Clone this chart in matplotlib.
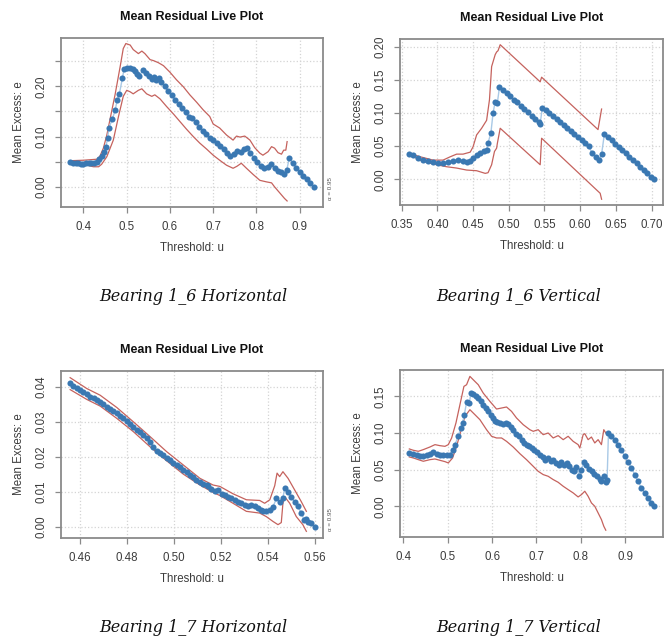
import matplotlib
matplotlib.use("Agg")
import matplotlib.pyplot as plt

# ---- Bearing 1_6 Horizontal ----
b16h_u = [0.369, 0.375, 0.382, 0.388, 0.394, 0.400, 0.406, 0.412, 0.418, 0.425,
          0.431, 0.436, 0.442, 0.447, 0.452, 0.456, 0.459, 0.467, 0.473, 0.478,
          0.483, 0.490, 0.494, 0.500, 0.508, 0.514, 0.519, 0.524, 0.529, 0.537,
          0.545, 0.552, 0.558, 0.563, 0.568, 0.575, 0.580, 0.588, 0.596, 0.604,
          0.612, 0.620, 0.628, 0.636, 0.645, 0.652, 0.660, 0.668, 0.676, 0.684,
          0.692, 0.700, 0.708, 0.716, 0.724, 0.732, 0.740, 0.748, 0.756, 0.764,
          0.772, 0.778, 0.786, 0.794, 0.802, 0.810, 0.818, 0.826, 0.834, 0.842,
          0.850, 0.858, 0.864, 0.870, 0.876, 0.884, 0.892, 0.900, 0.908, 0.916,
          0.924, 0.934]
b16h_e = [0.049, 0.048, 0.047, 0.047, 0.046, 0.046, 0.047, 0.047, 0.047, 0.048,
          0.050, 0.055, 0.062, 0.070, 0.080, 0.098, 0.118, 0.135, 0.152, 0.172,
          0.185, 0.216, 0.235, 0.236, 0.237, 0.235, 0.230, 0.225, 0.220, 0.232,
          0.226, 0.220, 0.215, 0.218, 0.212, 0.216, 0.208, 0.200, 0.190, 0.182,
          0.173, 0.165, 0.156, 0.148, 0.139, 0.137, 0.128, 0.120, 0.112, 0.105,
          0.097, 0.094, 0.088, 0.082, 0.075, 0.068, 0.062, 0.066, 0.072, 0.070,
          0.075, 0.077, 0.068, 0.058, 0.050, 0.042, 0.038, 0.040, 0.046, 0.038,
          0.032, 0.030, 0.026, 0.033, 0.057, 0.048, 0.038, 0.030, 0.022, 0.015,
          0.008, 0.000]
b16h_hi_u = [0.369, 0.400, 0.431, 0.438, 0.446, 0.454, 0.462, 0.473, 0.485, 0.492,
             0.498, 0.508, 0.515, 0.527, 0.535, 0.542, 0.554, 0.562, 0.573, 0.585,
             0.600, 0.615, 0.631, 0.646, 0.662, 0.677, 0.692, 0.700, 0.715, 0.731,
             0.746, 0.754, 0.762, 0.773, 0.785, 0.796, 0.808, 0.815, 0.827, 0.835,
             0.842, 0.850, 0.858, 0.863, 0.868, 0.871]
b16h_hi = [0.052, 0.053, 0.055, 0.061, 0.077, 0.103, 0.137, 0.183, 0.240, 0.275,
           0.285, 0.282, 0.273, 0.265, 0.270, 0.265, 0.253, 0.251, 0.247, 0.241,
           0.228, 0.213, 0.199, 0.183, 0.168, 0.153, 0.140, 0.125, 0.117, 0.103,
           0.093, 0.101, 0.099, 0.101, 0.093, 0.078, 0.067, 0.063, 0.070, 0.080,
           0.077, 0.068, 0.065, 0.073, 0.073, 0.090]
b16h_lo_u = [0.369, 0.400, 0.423, 0.435, 0.442, 0.454, 0.469, 0.481, 0.492, 0.500,
             0.508, 0.515, 0.527, 0.535, 0.546, 0.558, 0.565, 0.577, 0.592, 0.608,
             0.623, 0.638, 0.654, 0.669, 0.685, 0.700, 0.715, 0.731, 0.746, 0.755,
             0.765, 0.777, 0.792, 0.808, 0.823, 0.835, 0.842, 0.854, 0.865, 0.871]
b16h_lo = [0.047, 0.045, 0.040, 0.040, 0.045, 0.060, 0.093, 0.140, 0.180, 0.192,
           0.189, 0.185, 0.192, 0.195, 0.185, 0.180, 0.183, 0.175, 0.160, 0.145,
           0.130, 0.115, 0.100, 0.087, 0.075, 0.063, 0.053, 0.043, 0.037, 0.041,
           0.047, 0.037, 0.025, 0.013, 0.010, 0.008, 0.000, -0.012, -0.023, -0.028]

# ---- Bearing 1_6 Vertical ----
b16v_u = [0.361, 0.366, 0.373, 0.380, 0.387, 0.394, 0.401, 0.408, 0.415, 0.422,
          0.429, 0.436, 0.442, 0.446, 0.450, 0.455, 0.460, 0.465, 0.469, 0.471,
          0.475, 0.478, 0.481, 0.484, 0.487, 0.492, 0.497, 0.502, 0.507, 0.512,
          0.517, 0.522, 0.527, 0.532, 0.537, 0.542, 0.544, 0.547, 0.552, 0.557,
          0.562, 0.567, 0.572, 0.577, 0.582, 0.587, 0.592, 0.597, 0.602, 0.607,
          0.612, 0.617, 0.622, 0.627, 0.630, 0.634, 0.639, 0.644, 0.649, 0.654,
          0.659, 0.664, 0.669, 0.674, 0.679, 0.684, 0.689, 0.694, 0.699, 0.703]
b16v_e = [0.038, 0.036, 0.032, 0.029, 0.027, 0.026, 0.025, 0.024, 0.026, 0.028,
          0.029, 0.028, 0.026, 0.027, 0.032, 0.037, 0.039, 0.042, 0.044, 0.055,
          0.070, 0.100, 0.117, 0.115, 0.139, 0.135, 0.130, 0.125, 0.120, 0.116,
          0.111, 0.106, 0.101, 0.096, 0.091, 0.086, 0.084, 0.108, 0.104, 0.100,
          0.095, 0.091, 0.086, 0.082, 0.077, 0.073, 0.068, 0.064, 0.059, 0.055,
          0.050, 0.039, 0.034, 0.029, 0.038, 0.069, 0.064, 0.059, 0.054, 0.049,
          0.044, 0.039, 0.034, 0.029, 0.024, 0.019, 0.014, 0.009, 0.004, 0.000]
b16v_hi_u = [0.361, 0.376, 0.394, 0.408, 0.418, 0.427, 0.436, 0.446, 0.450, 0.455,
             0.462, 0.469, 0.473, 0.476, 0.481, 0.483, 0.485, 0.488, 0.544, 0.546,
             0.625, 0.630]
b16v_hi = [0.039, 0.034, 0.029, 0.029, 0.034, 0.038, 0.038, 0.041, 0.049, 0.067,
           0.077, 0.089, 0.120, 0.170, 0.188, 0.192, 0.194, 0.203, 0.147, 0.154,
           0.075, 0.106]
b16v_lo_u = [0.361, 0.380, 0.399, 0.413, 0.427, 0.441, 0.455, 0.467, 0.471, 0.476,
             0.480, 0.483, 0.484, 0.488, 0.544, 0.546, 0.623, 0.628, 0.630]
b16v_lo = [0.037, 0.027, 0.022, 0.019, 0.017, 0.014, 0.013, 0.009, 0.010, 0.022,
           0.042, 0.047, 0.054, 0.077, 0.022, 0.062, -0.016, -0.021, -0.030]

# ---- Bearing 1_7 Horizontal ----
b17h_u = [0.4557, 0.4571, 0.4585, 0.4600, 0.4614, 0.4628, 0.4643, 0.4657, 0.4671, 0.4685,
          0.4699, 0.4714, 0.4728, 0.4742, 0.4756, 0.4770, 0.4784, 0.4799, 0.4813, 0.4827,
          0.4841, 0.4855, 0.4870, 0.4884, 0.4898, 0.4912, 0.4926, 0.4941, 0.4955, 0.4969,
          0.4983, 0.4997, 0.5011, 0.5026, 0.5040, 0.5054, 0.5068, 0.5082, 0.5096, 0.5111,
          0.5125, 0.5139, 0.5146, 0.5160, 0.5174, 0.5189, 0.5203, 0.5217, 0.5231, 0.5245,
          0.5260, 0.5274, 0.5288, 0.5302, 0.5316, 0.5330, 0.5345, 0.5359, 0.5373, 0.5380,
          0.5394, 0.5409, 0.5423, 0.5437, 0.5451, 0.5465, 0.5472, 0.5487, 0.5501, 0.5515,
          0.5529, 0.5543, 0.5557, 0.5565, 0.5572, 0.5586, 0.5600]
b17h_e = [0.0410, 0.0403, 0.0397, 0.0392, 0.0386, 0.0379, 0.0372, 0.0368, 0.0362, 0.0357,
          0.0351, 0.0343, 0.0336, 0.0330, 0.0324, 0.0317, 0.0310, 0.0302, 0.0294, 0.0285,
          0.0277, 0.0270, 0.0263, 0.0254, 0.0244, 0.0229, 0.0218, 0.0212, 0.0206, 0.0198,
          0.0191, 0.0184, 0.0177, 0.0170, 0.0163, 0.0156, 0.0149, 0.0142, 0.0135, 0.0129,
          0.0123, 0.0120, 0.0118, 0.0108, 0.0104, 0.0106, 0.0095, 0.0091, 0.0087, 0.0083,
          0.0078, 0.0073, 0.0068, 0.0064, 0.0061, 0.0062, 0.0059, 0.0054, 0.0049, 0.0045,
          0.0046, 0.0049, 0.0058, 0.0082, 0.0073, 0.0082, 0.0111, 0.0099, 0.0085, 0.0071,
          0.0059, 0.0040, 0.0019, 0.0022, 0.0016, 0.0011, 0.0000]
b17h_hi_u = [0.4557, 0.4628, 0.4685, 0.4756, 0.4827, 0.4898, 0.4969, 0.5040, 0.5111, 0.5167,
             0.5196, 0.5252, 0.5309, 0.5366, 0.5387, 0.5409, 0.5430, 0.5440, 0.5451, 0.5465,
             0.5487, 0.5515, 0.5543, 0.5565]
b17h_hi = [0.0426, 0.0395, 0.0376, 0.0341, 0.0300, 0.0258, 0.0215, 0.0177, 0.0139, 0.0120,
           0.0116, 0.0095, 0.0078, 0.0076, 0.0068, 0.0078, 0.0118, 0.0154, 0.0144, 0.0158,
           0.0139, 0.0106, 0.0073, 0.0045]
b17h_lo_u = [0.4557, 0.4628, 0.4685, 0.4756, 0.4827, 0.4898, 0.4969, 0.5040, 0.5111, 0.5167,
             0.5196, 0.5252, 0.5309, 0.5366, 0.5394, 0.5423, 0.5444, 0.5458, 0.5465, 0.5472,
             0.5494, 0.5522, 0.5550, 0.5565]
b17h_lo = [0.0392, 0.0364, 0.0345, 0.0310, 0.0272, 0.0229, 0.0189, 0.0151, 0.0120, 0.0099,
           0.0090, 0.0068, 0.0045, 0.0040, 0.0030, 0.0016, 0.0007, 0.0013, 0.0068, 0.0087,
           0.0068, 0.0030, 0.0007, -0.0012]

# ---- Bearing 1_7 Vertical ----
b17v_u = [0.4135, 0.4210, 0.4300, 0.4375, 0.4450, 0.4525, 0.4600, 0.4675, 0.4750, 0.4825,
          0.4900, 0.4977, 0.5053, 0.5110, 0.5163, 0.5238, 0.5290, 0.5335, 0.5373, 0.5425,
          0.5485, 0.5523, 0.5575, 0.5635, 0.5688, 0.5748, 0.5800, 0.5860, 0.5913, 0.5965,
          0.6025, 0.6063, 0.6115, 0.6175, 0.6250, 0.6310, 0.6363, 0.6415, 0.6475, 0.6535,
          0.6595, 0.6663, 0.6715, 0.6775, 0.6835, 0.6888, 0.6948, 0.7016, 0.7076, 0.7136,
          0.7196, 0.7256, 0.7316, 0.7376, 0.7436, 0.7496, 0.7563, 0.7616, 0.7676, 0.7736,
          0.7796, 0.7856, 0.7901, 0.7961, 0.8013, 0.8066, 0.8126, 0.8186, 0.8246, 0.8306,
          0.8366, 0.8426, 0.8463, 0.8516, 0.8561, 0.8591, 0.8621, 0.8688, 0.8764, 0.8839,
          0.8914, 0.8989, 0.9064, 0.9139, 0.9214, 0.9289, 0.9364, 0.9439, 0.9514, 0.9589,
          0.9642]
b17v_e = [0.0727, 0.0714, 0.0695, 0.0682, 0.0691, 0.0705, 0.0718, 0.0736, 0.0718, 0.0705,
          0.0700, 0.0705, 0.0705, 0.0773, 0.0841, 0.0955, 0.1068, 0.1136, 0.1250, 0.1418,
          0.1409, 0.1545, 0.1536, 0.1509, 0.1477, 0.1432, 0.1386, 0.1341, 0.1295, 0.1250,
          0.1205, 0.1159, 0.1145, 0.1136, 0.1127, 0.1136, 0.1123, 0.1082, 0.1045, 0.0991,
          0.0955, 0.0909, 0.0864, 0.0841, 0.0827, 0.0795, 0.0764, 0.0736, 0.0705, 0.0673,
          0.0636, 0.0659, 0.0614, 0.0627, 0.0591, 0.0568, 0.0600, 0.0568, 0.0591, 0.0545,
          0.0500, 0.0477, 0.0536, 0.0409, 0.0500, 0.0600, 0.0568, 0.0509, 0.0477, 0.0445,
          0.0409, 0.0373, 0.0341, 0.0409, 0.0327, 0.0364, 0.1000, 0.0964, 0.0909, 0.0841,
          0.0764, 0.0682, 0.0600, 0.0523, 0.0432, 0.0341, 0.0250, 0.0182, 0.0114, 0.0045,
          0.0000]
b17v_hi_u = [0.4135, 0.4225, 0.4338, 0.4450, 0.4600, 0.4713, 0.4825, 0.4938, 0.5013, 0.5088,
             0.5185, 0.5275, 0.5365, 0.5425, 0.5500, 0.5575, 0.5688, 0.5800, 0.5950, 0.6100,
             0.6213, 0.6325, 0.6438, 0.6550, 0.6700, 0.6850, 0.6926, 0.7038, 0.7151, 0.7263,
             0.7376, 0.7488, 0.7601, 0.7713, 0.7826, 0.7938, 0.7976, 0.8051, 0.8088, 0.8163,
             0.8238, 0.8313, 0.8388, 0.8463, 0.8516, 0.8561]
b17v_hi = [0.0782, 0.0764, 0.0750, 0.0773, 0.0809, 0.0841, 0.0827, 0.0818, 0.0841, 0.0932,
           0.1136, 0.1386, 0.1636, 0.1659, 0.1773, 0.1727, 0.1659, 0.1545, 0.1432, 0.1327,
           0.1341, 0.1355, 0.1295, 0.1205, 0.1114, 0.1045, 0.1023, 0.1045, 0.0977, 0.1000,
           0.0932, 0.0964, 0.0909, 0.0955, 0.0886, 0.0841, 0.0795, 0.0977, 0.0991, 0.0909,
           0.0945, 0.0864, 0.0909, 0.0841, 0.1045, 0.1000]
b17v_lo_u = [0.4135, 0.4225, 0.4338, 0.4450, 0.4600, 0.4713, 0.4825, 0.4938, 0.5013, 0.5110,
             0.5200, 0.5313, 0.5388, 0.5500, 0.5613, 0.5725, 0.5875, 0.5988, 0.6100, 0.6213,
             0.6325, 0.6475, 0.6625, 0.6775, 0.6926, 0.7038, 0.7151, 0.7263, 0.7376, 0.7488,
             0.7601, 0.7713, 0.7826, 0.7938, 0.8013, 0.8088, 0.8163, 0.8238, 0.8313, 0.8388,
             0.8463, 0.8516, 0.8561]
b17v_lo = [0.0673, 0.0659, 0.0636, 0.0614, 0.0636, 0.0645, 0.0627, 0.0609, 0.0591, 0.0659,
           0.0818, 0.1068, 0.1227, 0.1318, 0.1250, 0.1182, 0.1045, 0.0955, 0.0932, 0.0932,
           0.0886, 0.0809, 0.0718, 0.0636, 0.0545, 0.0477, 0.0432, 0.0409, 0.0364, 0.0327,
           0.0273, 0.0227, 0.0182, 0.0127, 0.0159, 0.0205, 0.0136, 0.0045, 0.0000, -0.0091,
           -0.0182, -0.0273, -0.0327]

captions = ["Bearing 1_6 Horizontal", "Bearing 1_6 Vertical",
            "Bearing 1_7 Horizontal", "Bearing 1_7 Vertical"]

W, H = 666, 642
PT = 72.0 / 100  # px -> points


def px_box(x0, y0, x1, y1):
    return [x0 / W, 1 - y1 / H, (x1 - x0) / W, (y1 - y0) / H]


def mrl_panel(ax, u, e, hi_u, hi, lo_u, lo, xticks, xlabels, yticks, ylabels, xlim, ylim, alpha_txt):
    ax.grid(True, color="#d4d4d4", linestyle=":", linewidth=0.9)
    ax.set_axisbelow(True)
    ax.plot(hi_u, hi, color="#c5625d", linewidth=0.9, zorder=2)
    ax.plot(lo_u, lo, color="#c5625d", linewidth=0.9, zorder=2)
    ax.plot(u, e, color="#a9c9e6", linewidth=1.0, zorder=3)
    ax.plot(u, e, linestyle="none", marker="o", markersize=4.4,
            color="#3a78b2", markeredgewidth=0, zorder=4)
    ax.set_xlim(*xlim)
    ax.set_ylim(*ylim)
    ax.set_xticks(xticks)
    ax.set_xticklabels(xlabels)
    ax.set_yticks(yticks)
    ax.set_yticklabels(ylabels, rotation=90, va="center")
    ax.tick_params(length=4, width=0.9, color="#8a8a8a", labelsize=8.3,
                   labelcolor="#3c3c3c", direction="out")
    ax.tick_params(axis="x", pad=6)
    ax.tick_params(axis="y", pad=6)
    for s in ax.spines.values():
        s.set_color("#8a8a8a")
        s.set_linewidth(1.3)
    ax.set_title("Mean Residual Live Plot", fontsize=9, fontweight="bold",
                 color="#111111", pad=13)
    ax.annotate("Threshold: u", xy=(0.5, 0), xycoords="axes fraction",
                xytext=(0, -41 * PT), textcoords="offset points",
                ha="center", va="center", fontsize=8.3, color="#3c3c3c")
    ax.annotate("Mean Excess: e", xy=(0, 0.5), xycoords="axes fraction",
                xytext=(-42 * PT, 0), textcoords="offset points",
                ha="center", va="center", rotation=90, fontsize=8.3, color="#3c3c3c")
    if alpha_txt:
        ax.annotate("\u03b1 = 0.95", xy=(1, 0), xycoords="axes fraction",
                    xytext=(8 * PT, 18 * PT), textcoords="offset points",
                    ha="center", va="center", rotation=90, fontsize=4.5,
                    color="#555555", annotation_clip=False)


plt.rcParams["font.family"] = ["Liberation Sans", "DejaVu Sans"]
fig = plt.figure(figsize=(W / 100, H / 100), dpi=100)

ax1 = fig.add_axes(px_box(61, 38, 323, 207))
mrl_panel(ax1, b16h_u, b16h_e, b16h_hi_u, b16h_hi, b16h_lo_u, b16h_lo,
          [0.4, 0.5, 0.6, 0.7, 0.8, 0.9], ["0.4", "0.5", "0.6", "0.7", "0.8", "0.9"],
          [0.0, 0.05, 0.10, 0.15, 0.20, 0.25], ["0.00", "", "0.10", "", "0.20", ""],
          (0.348, 0.954), (-0.040, 0.296), True)

ax2 = fig.add_axes(px_box(400, 39, 663, 205))
mrl_panel(ax2, b16v_u, b16v_e, b16v_hi_u, b16v_hi, b16v_lo_u, b16v_lo,
          [0.35, 0.40, 0.45, 0.50, 0.55, 0.60, 0.65, 0.70],
          ["0.35", "0.40", "0.45", "0.50", "0.55", "0.60", "0.65", "0.70"],
          [0.0, 0.05, 0.10, 0.15, 0.20], ["0.00", "0.05", "0.10", "0.15", "0.20"],
          (0.3477, 0.716), (-0.0387, 0.2116), False)

ax3 = fig.add_axes(px_box(61, 371, 323, 538))
mrl_panel(ax3, b17h_u, b17h_e, b17h_hi_u, b17h_hi, b17h_lo_u, b17h_lo,
          [0.46, 0.48, 0.50, 0.52, 0.54, 0.56],
          ["0.46", "0.48", "0.50", "0.52", "0.54", "0.56"],
          [0.0, 0.01, 0.02, 0.03, 0.04], ["0.00", "0.01", "0.02", "0.03", "0.04"],
          (0.4518, 0.5636), (-0.0031, 0.0445), True)

ax4 = fig.add_axes(px_box(400, 370, 663, 537))
mrl_panel(ax4, b17v_u, b17v_e, b17v_hi_u, b17v_hi, b17v_lo_u, b17v_lo,
          [0.4, 0.5, 0.6, 0.7, 0.8, 0.9], ["0.4", "0.5", "0.6", "0.7", "0.8", "0.9"],
          [0.0, 0.05, 0.10, 0.15], ["0.00", "0.05", "0.10", "0.15"],
          (0.3925, 0.985), (-0.042, 0.186), False)

cap_pos = [(193, 296), (519, 296), (193, 628), (519, 628)]
for txt, (cx, cy) in zip(captions, cap_pos):
    fig.text(cx / W, 1 - cy / H, txt, ha="center", va="center", fontsize=11.5,
             family="DejaVu Serif", style="italic", color="#111111")

fig.savefig("out.png", dpi=100, facecolor="white")
